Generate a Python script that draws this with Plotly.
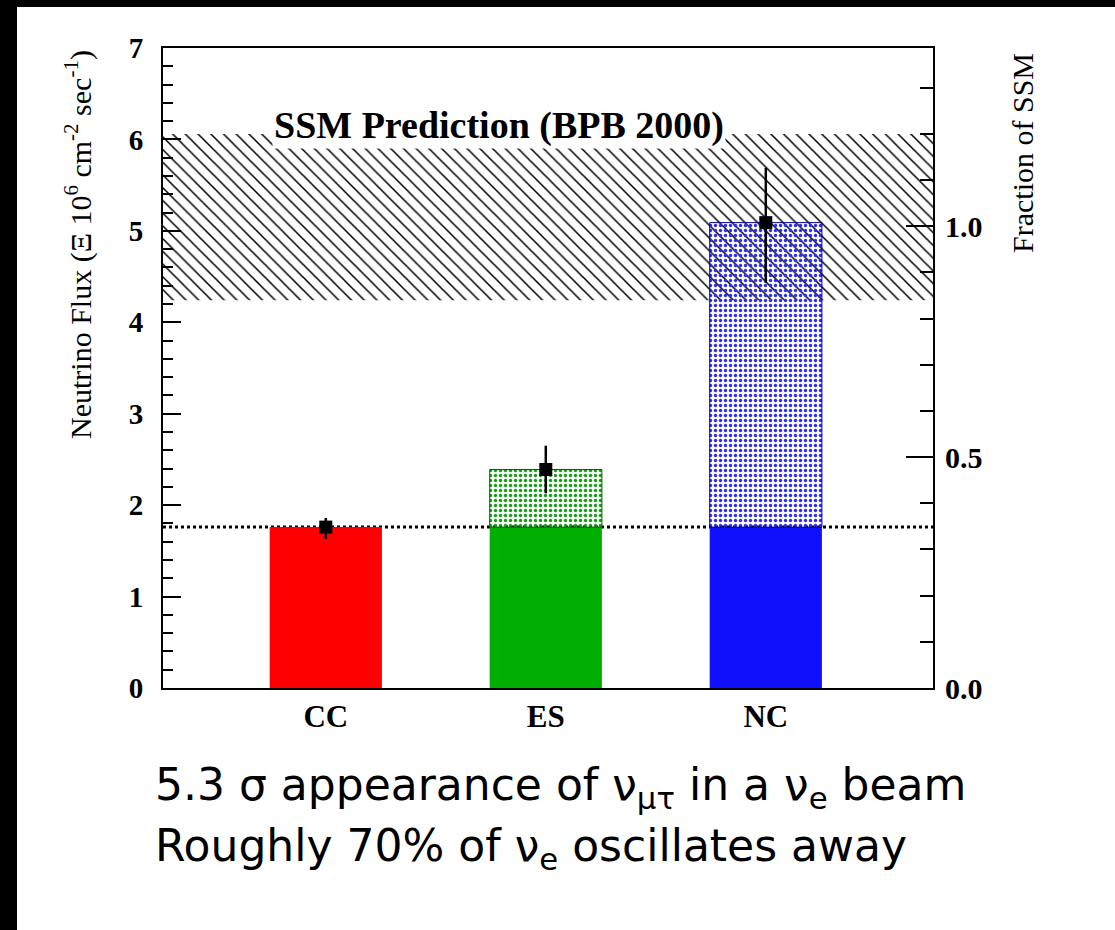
import plotly.graph_objects as go

# ---- data ----
categories = ["CC", "ES", "NC"]
flux = [1.76, 2.39, 5.09]
err_up = [0.10, 0.26, 0.60]
err_down = [0.13, 0.26, 0.66]
cc_flux = 1.76
ssm_center = 5.05
ssm_low = 4.24
ssm_high = 6.06
left_ticks = [0, 1, 2, 3, 4, 5, 6, 7]
right_ticks = [0.0, 0.5, 1.0]

solid_colors = ["#ff0000", "#00b000", "#1010ff"]
hatch_colors = ["#ff0000", "#10a010", "#2a2aff"]

x_pos = list(range(len(categories)))
x_range = [-0.74, 2.76]
y_max = 7

W, H = 1115, 930
L, R, T, B = 163, 933, 48, 688


def px(x):
    return (x - L) / (R - L)


def py(y):
    return (B - y) / (B - T)


fig = go.Figure()

# SSM prediction band
fig.add_trace(go.Bar(
    x=[(x_range[0] + x_range[1]) / 2], y=[ssm_high - ssm_low], base=[ssm_low],
    width=[x_range[1] - x_range[0]],
    marker=dict(color="white", line=dict(width=0),
                pattern=dict(shape="\\", fgcolor="black", bgcolor="white",
                             size=9, solidity=0.17, fillmode="replace")),
    showlegend=False, hoverinfo="skip"))

# part of each bar up to the CC level
fig.add_trace(go.Bar(
    x=x_pos, y=[min(v, cc_flux) for v in flux], base=[0] * len(flux),
    width=0.51, marker=dict(color=solid_colors, line=dict(width=0)),
    showlegend=False))

# excess above the CC level
ex_idx = [i for i, v in enumerate(flux) if v > cc_flux]
fig.add_trace(go.Bar(
    x=[x_pos[i] for i in ex_idx], y=[flux[i] - cc_flux for i in ex_idx],
    base=[cc_flux] * len(ex_idx), width=0.51,
    marker=dict(color=[hatch_colors[i] for i in ex_idx],
                line=dict(width=1, color=["#006000", "#000080"]),
                pattern=dict(shape=".", fgcolor="white",
                             bgcolor=[hatch_colors[i] for i in ex_idx],
                             size=5, solidity=0.35, fillmode="replace")),
    showlegend=False))

# measured points
fig.add_trace(go.Scatter(
    x=x_pos, y=flux, mode="markers",
    marker=dict(symbol="square", size=13, color="black"),
    error_y=dict(type="data", array=err_up, arrayminus=err_down,
                 color="black", thickness=2.5, width=0),
    showlegend=False))

# dummy trace for right axis
fig.add_trace(go.Scatter(x=[x_pos[0]], y=[0], yaxis="y2", mode="markers",
                         marker=dict(opacity=0), showlegend=False, hoverinfo="skip"))

serif = "Liberation Serif"

fig.update_layout(
    width=W, height=H,
    margin=dict(l=L, r=W - R, t=T, b=H - B),
    paper_bgcolor="black", plot_bgcolor="white",
    barmode="overlay",
    xaxis=dict(range=x_range, tickvals=x_pos, ticktext=categories,
               showline=True, linecolor="black", linewidth=2, mirror=True,
               ticks="", showgrid=False, zeroline=False,
               tickfont=dict(family=serif, size=31, color="black", weight="bold")),
    yaxis=dict(range=[0, y_max], tickvals=left_ticks,
               showline=True, linecolor="black", linewidth=2,
               ticks="inside", ticklen=18, tickwidth=2, tickcolor="black",
               minor=dict(dtick=0.2, ticks="inside", ticklen=10, tickwidth=2, tickcolor="black"),
               showgrid=False, zeroline=False, ticklabelstandoff=12,
               tickfont=dict(family=serif, size=29, color="black", weight="bold")),
    yaxis2=dict(range=[0, y_max / ssm_center], overlaying="y", side="right",
                tickvals=right_ticks, tickformat=".1f",
                showline=True, linecolor="black", linewidth=2,
                ticks="inside", ticklen=27, tickwidth=2, tickcolor="black",
                minor=dict(dtick=0.1, ticks="inside", ticklen=13, tickwidth=2, tickcolor="black"),
                showgrid=False, zeroline=False, ticklabelstandoff=4,
                tickfont=dict(family=serif, size=30, color="black", weight="bold")),
    shapes=[
        dict(type="rect", xref="paper", yref="paper",
             x0=px(17), x1=px(W + 20), y0=py(H + 20), y1=py(7),
             fillcolor="white", line=dict(width=0), layer="below"),
        dict(type="line", xref="paper", yref="y", x0=0, x1=1, y0=cc_flux, y1=cc_flux,
             line=dict(color="black", width=3, dash="dot"), layer="below"),
    ],
    annotations=[
        dict(text="SSM Prediction (BPB 2000)", xref="paper", yref="paper",
             x=px(499), y=py(126), xanchor="center", yanchor="middle",
             showarrow=False, bgcolor="white",
             font=dict(family=serif, size=38, color="black", weight="bold")),
        dict(text="Neutrino Flux (Ξ 10<sup>6</sup> cm<sup>-2</sup> sec<sup>-1</sup>)",
             xref="paper", yref="paper", x=px(78), y=py(245), textangle=-90,
             xanchor="center", yanchor="middle",
             showarrow=False, font=dict(family=serif, size=30, color="black")),
        dict(text="Fraction of SSM", xref="paper", yref="paper",
             x=px(1022), y=py(153), textangle=-90, xanchor="center", yanchor="middle",
             showarrow=False, font=dict(family=serif, size=30, color="black")),
        dict(text="5.3 σ appearance of ν<sub>μτ</sub> in a ν<sub>e</sub> beam",
             xref="paper", yref="paper", x=px(153), y=py(787), xanchor="left",
             yanchor="middle", showarrow=False,
             font=dict(family="DejaVu Sans", size=44, color="black")),
        dict(text="Roughly 70% of ν<sub>e</sub> oscillates away",
             xref="paper", yref="paper", x=px(153), y=py(848), xanchor="left",
             yanchor="middle", showarrow=False,
             font=dict(family="DejaVu Sans", size=44, color="black")),
    ],
)

fig.write_html(
    "out.html",
    config={"displayModeBar": False},
    post_script="document.body.style.margin='0px';document.body.style.overflow='hidden';",
)
